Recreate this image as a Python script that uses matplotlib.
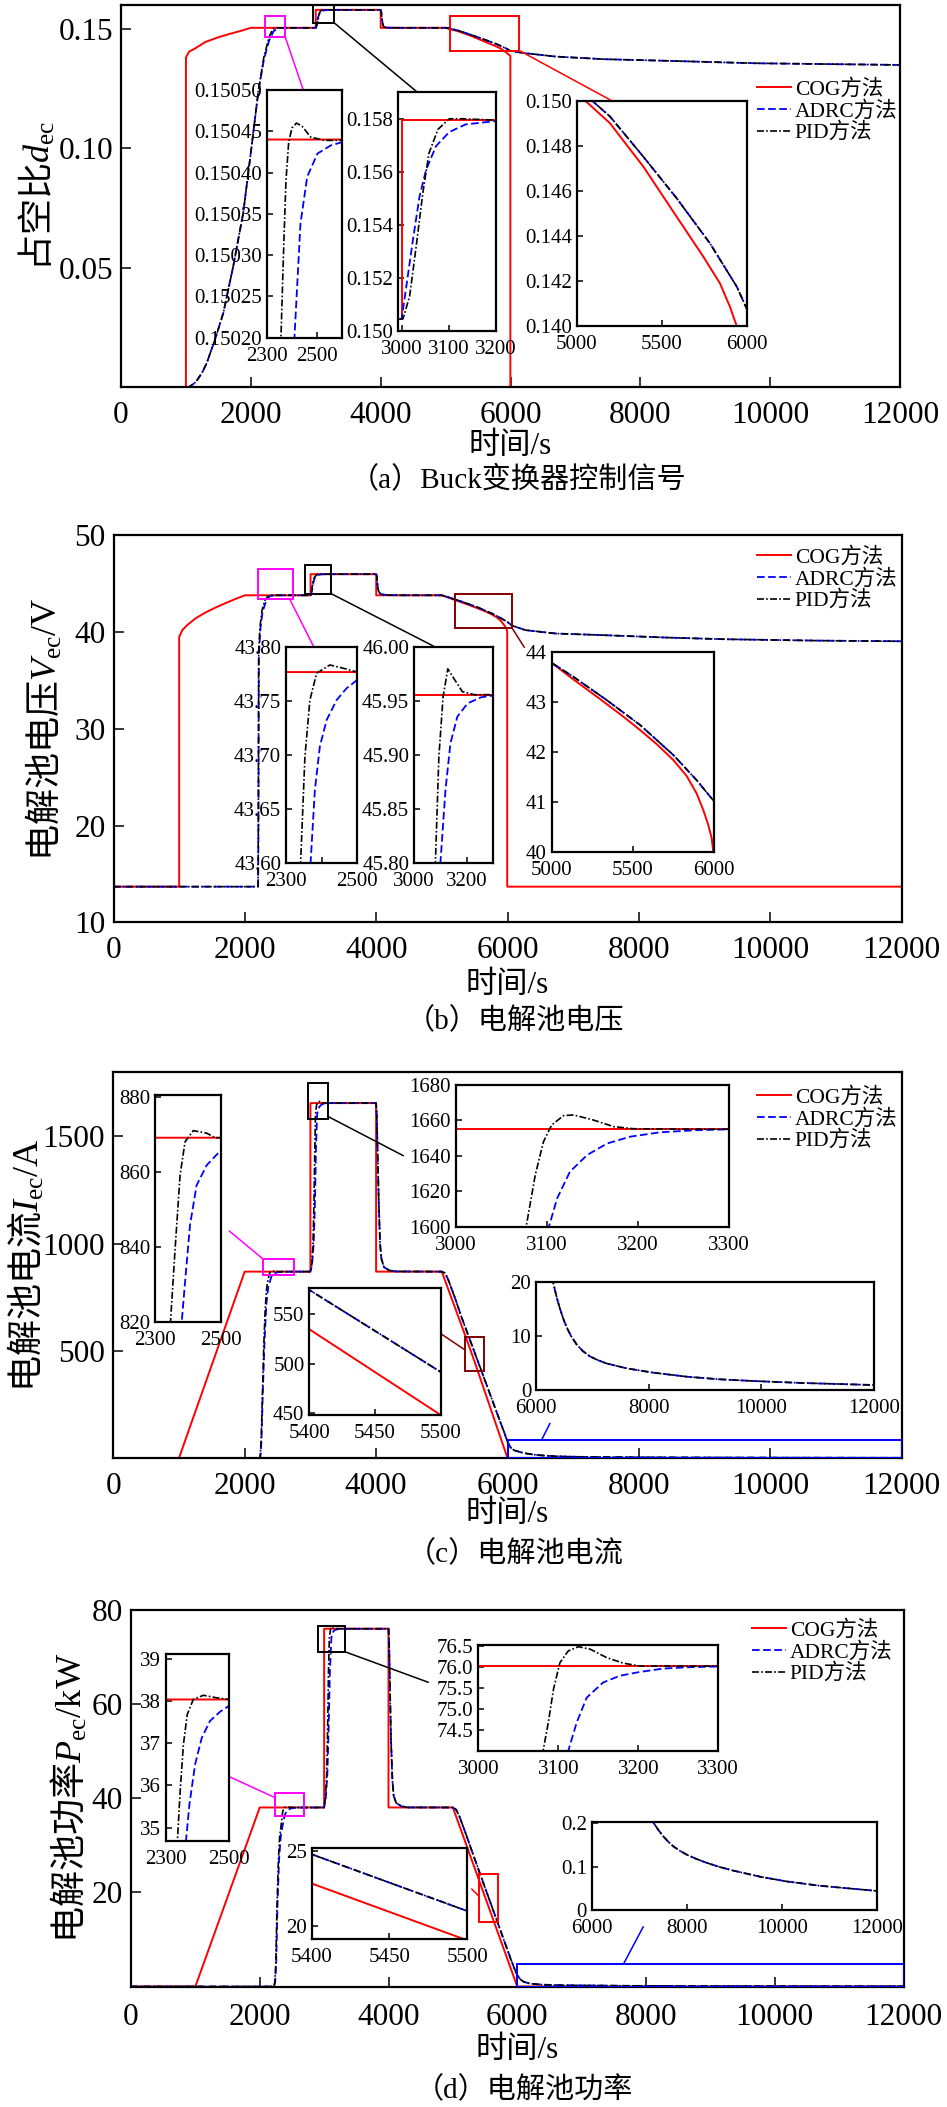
import matplotlib
matplotlib.use("Agg")
import matplotlib.pyplot as plt
from matplotlib.patches import Rectangle, ConnectionPatch

plt.rcParams['font.family'] = ['Liberation Serif', 'Noto Sans CJK SC']
plt.rcParams['mathtext.fontset'] = 'custom'
plt.rcParams['mathtext.rm'] = 'Liberation Serif'
plt.rcParams['mathtext.it'] = 'Liberation Serif:italic'
plt.rcParams['lines.scale_dashes'] = False
plt.rcParams['axes.unicode_minus'] = False

# ============================ DATA ============================
series_names = ['COG方法', 'ADRC方法', 'PID方法']
main_xticks = [0, 2000, 4000, 6000, 8000, 10000, 12000]
main_xticklabels = ['0', '2000', '4000', '6000', '8000', '10000', '12000']

# ---- (a) Buck duty cycle ----
a_cog_t = [0, 1000, 1000, 1050, 1128, 1300, 1500, 1675, 1850, 2000, 3000, 3000, 4000, 4000,
           5000, 5020, 5050, 5195, 5391, 5586, 5742, 5840, 5898, 5938, 5975, 5998, 5998, 12000]
a_cog_v = [0, 0, 0.138, 0.1405, 0.1416, 0.1445, 0.1465, 0.1479, 0.1492, 0.15044, 0.15044, 0.15797,
           0.15797, 0.15044, 0.15044, 0.1503, 0.1500, 0.1490, 0.14707, 0.14485, 0.14308, 0.14189,
           0.14086, 0.1400, 0.1392, 0.1386, 0, 0]
a_rise_t = [0, 1050, 1150, 1250, 1320, 1450, 1576, 1730, 1884, 2013, 2115]
a_rise_v = [0, 0, 0.002, 0.006, 0.010, 0.020, 0.031, 0.0507, 0.0731, 0.101, 0.1237]
a_pid_mid_t = [2200, 2280, 2330, 2357, 2368, 2377, 2388, 2401, 2419, 2442, 2476, 2530, 3000, 3003,
               3017, 3031, 3045, 3058, 3077, 3101, 3129, 3198, 4000]
a_pid_mid_v = [0.138, 0.1465, 0.1495, 0.15020, 0.15031, 0.15039, 0.150437, 0.150454, 0.150460,
               0.150456, 0.150443, 0.150439, 0.150439, 0.15045, 0.1513, 0.1532, 0.1552, 0.1567,
               0.1576, 0.1580, 0.1580, 0.15795, 0.15795]
a_adrc_mid_t = [2200, 2280, 2350, 2411, 2435, 2462, 2503, 2557, 2604, 2700, 3000, 3010, 3024, 3038,
                3052, 3073, 3101, 3136, 3198, 3300, 4000]
a_adrc_mid_v = [0.137, 0.145, 0.1490, 0.15020, 0.150338, 0.150395, 0.150423, 0.150433, 0.150437,
                0.150439, 0.150439, 0.15167, 0.15343, 0.15507, 0.15608, 0.15697, 0.1575, 0.15779,
                0.15791, 0.15795, 0.15795]
a_tail_t = [4010, 4025, 4040, 4070, 4120, 4300, 5000, 5050, 5090, 5195, 5391, 5586, 5781, 5938,
            6000, 6231, 6696, 7443, 8448, 9766, 12000]
a_tail_v = [0.1570, 0.1530, 0.1512, 0.1506, 0.15050, 0.15045, 0.15044, 0.15030, 0.1500, 0.1493,
            0.14751, 0.14567, 0.14367, 0.14175, 0.14071, 0.1398, 0.1384, 0.1373, 0.1366, 0.1356, 0.1349]

# ---- (b) electrolyser voltage ----
b_cog_t = [0, 1000, 1000, 1050, 1122, 1250, 1400, 1550, 1700, 1850, 2000, 3000, 3000, 4000, 4000,
           5000, 5133, 5236, 5338, 5441, 5543, 5645, 5748, 5830, 5891, 5932, 5963, 5984, 5994,
           5994, 12000]
b_cog_v = [13.7, 13.7, 39.5, 40.2, 40.7, 41.4, 42.0, 42.5, 42.95, 43.38, 43.777, 43.777, 45.956,
           45.956, 43.777, 43.777, 43.448, 43.203, 42.957, 42.704, 42.439, 42.159, 41.840, 41.522,
           41.176, 40.844, 40.545, 40.279, 40.0, 13.7, 13.7]
b_pid_head_t = [0, 2200, 2205, 2210, 2230, 2260, 2300, 2341, 2353, 2367, 2386, 2423, 2461, 2500,
                3000, 3010, 3020, 3035, 3050, 3065, 3081, 3094, 3110, 3128, 3151, 3183, 3228, 4000]
b_pid_head_v = [13.7, 13.7, 20, 38, 40.5, 42.2, 43.2, 43.60, 43.698, 43.751, 43.776, 43.7836,
                43.7805, 43.777, 43.777, 43.9, 44.4, 45.1, 45.5, 45.7, 45.80, 45.898, 45.954,
                45.980, 45.971, 45.9588, 45.956, 45.956]
b_adrc_head_t = [0, 2202, 2207, 2213, 2235, 2270, 2320, 2369, 2381, 2395, 2414, 2442, 2470, 2500,
                 2600, 3000, 3012, 3025, 3040, 3060, 3080, 3100, 3119, 3138, 3164, 3203, 3254,
                 3305, 4000]
b_adrc_head_v = [13.7, 13.7, 20, 37.5, 40.2, 42.1, 43.1, 43.60, 43.6675, 43.708, 43.7325, 43.751,
                 43.762, 43.7697, 43.776, 43.777, 43.9, 44.4, 45.0, 45.5, 45.72, 45.80, 45.8675,
                 45.911, 45.9356, 45.948, 45.9536, 45.9554, 45.956]
b_tail_t = [4010, 4020, 4035, 4060, 4100, 4200, 4400, 5000, 5133, 5338, 5543, 5748, 5891, 6000,
            6070, 6272, 6732, 7468, 8387, 9307, 10686, 12000]
b_tail_v = [45.7, 44.8, 44.2, 43.95, 43.85, 43.79, 43.777, 43.777, 43.50, 43.036, 42.54, 41.94,
            41.44, 41.01, 40.64, 40.18, 39.83, 39.66, 39.42, 39.24, 39.10, 39.03]

# ---- (c) electrolyser current ----
c_cog_t = [0, 1000, 2000, 3000, 3000, 4000, 4000, 5000, 5400, 5500, 6000, 12000]
c_cog_v = [0, 0, 869.1, 869.1, 1655, 1655, 869.1, 869.1, 534.6, 448.3, 0, 0]
c_pid_head_t = [0, 2220, 2234, 2250, 2270, 2290, 2310, 2330, 2347, 2361, 2376, 2391, 2416, 2457,
                2482, 3000, 3020, 3040, 3055, 3065, 3077, 3087, 3096, 3105, 3118, 3129, 3151,
                3173, 3195, 3300, 4000]
c_pid_head_v = [0, 0, 5, 80, 300, 520, 680, 780, 820, 839.5, 859.1, 868.0, 871.0, 870.3, 869.1,
                869.1, 900, 1000, 1200, 1400, 1600, 1629.2, 1648, 1657.4, 1662.7, 1663.1, 1660.2,
                1656.5, 1655.3, 1655, 1655]
c_adrc_head_t = [0, 2225, 2240, 2255, 2275, 2300, 2330, 2360, 2381, 2391, 2406, 2426, 2457, 2500,
                 2550, 2650, 3000, 3025, 3050, 3070, 3085, 3102, 3111, 3125, 3144, 3166, 3191,
                 3224, 3261, 3300, 4000]
c_adrc_head_v = [0, 0, 5, 80, 300, 530, 720, 800, 820, 830.5, 845.7, 856.4, 861.8, 865.8, 867.8,
                 868.8, 869.1, 900, 1000, 1200, 1450, 1600, 1616, 1631, 1640.5, 1647, 1650.8,
                 1653.3, 1654.4, 1655, 1655]
c_tail_t = [4010, 4025, 4040, 4060, 4080, 4120, 4200, 4300, 5000, 5050, 5100, 5200, 5300, 5400,
            5500, 5600, 5700, 5800, 5900, 5950, 6000, 6050, 6100, 6200, 6308, 6370, 6426, 6490,
            6544, 6620, 6722, 6830, 6959, 7100, 7254, 7609, 8083, 8675, 9266, 9858, 10746, 12000]
c_tail_v = [1600, 1400, 1200, 1000, 930, 890, 875, 870, 869.1, 862, 830, 747, 657, 574.2, 491.6,
            409, 326, 243, 160, 120, 75, 48, 36, 27, 19.7, 17.0, 15.0, 13.0, 11.6, 10.0, 8.4,
            7.2, 6.2, 5.5, 4.9, 4.0, 3.2, 2.46, 1.97, 1.66, 1.29, 0.92]

# ---- (d) electrolyser power ----
d_cog_t = [0, 1000, 2000, 3000, 3000, 4000, 4000, 5000, 6000, 12000]
d_cog_v = [0, 0, 38.04, 38.04, 76.02, 76.02, 38.04, 38.04, 0, 0]
d_pid_head_t = [0, 2220, 2235, 2250, 2268, 2290, 2310, 2336, 2344.7, 2355, 2367, 2386, 2418, 2460,
                2500, 3000, 3020, 3040, 3055, 3068, 3081, 3087.5, 3094, 3102, 3112.5, 3125, 3140,
                3160.5, 3181, 3202, 4000]
d_pid_head_v = [0, 0, 1, 5, 17.3, 27, 32, 34.68, 35.86, 36.97, 37.68, 38.04, 38.14, 38.08, 38.04,
                38.04, 40, 45, 55, 67, 74.01, 74.68, 75.47, 76.1, 76.38, 76.48, 76.42, 76.22,
                76.09, 76.02, 76.02]
d_adrc_head_t = [0, 2225, 2240, 2255, 2275, 2300, 2330, 2363, 2374, 2392, 2413, 2439, 2471, 2497,
                 2550, 2650, 3000, 3025, 3050, 3070, 3090, 3112.5, 3123, 3135.5, 3156, 3177, 3202,
                 3231, 3260, 3300, 4000]
d_adrc_head_v = [0, 0, 1, 5, 17, 27, 32.5, 34.68, 35.55, 36.5, 37.13, 37.53, 37.75, 37.88, 37.97,
                 38.02, 38.04, 40, 45, 55, 67, 74.01, 74.68, 75.27, 75.63, 75.79, 75.88, 75.96,
                 75.99, 76.01, 76.02]
d_tail_t = [4010, 4025, 4040, 4060, 4080, 4120, 4200, 4300, 5000, 5050, 5100, 5200, 5300, 5400,
            5500, 5600, 5700, 5800, 5900, 5950, 6000, 6050, 6100, 6200, 6400, 6700, 7000, 7295,
            7400, 7505, 7615, 7715, 7850, 7995, 8200, 8415, 8700, 8975, 9535, 10095, 10795,
            11495, 12000]
d_tail_v = [73, 62, 52, 44, 40.5, 39, 38.3, 38.05, 38.04, 37.6, 36.2, 32.5, 28.6, 24.78, 20.98,
            17.2, 13.4, 9.6, 5.8, 4.0, 2.4, 1.5, 1.0, 0.6, 0.38, 0.27, 0.23, 0.202, 0.185, 0.170,
            0.157, 0.147, 0.137, 0.128, 0.118, 0.109, 0.099, 0.091, 0.077, 0.066, 0.056, 0.049,
            0.044]

# assembled series
a_pid_t = a_rise_t + a_pid_mid_t + a_tail_t
a_pid_v = a_rise_v + a_pid_mid_v + a_tail_v
a_adrc_t = a_rise_t + a_adrc_mid_t + a_tail_t
a_adrc_v = a_rise_v + a_adrc_mid_v + a_tail_v
b_pid_t, b_pid_v = b_pid_head_t + b_tail_t, b_pid_head_v + b_tail_v
b_adrc_t, b_adrc_v = b_adrc_head_t + b_tail_t, b_adrc_head_v + b_tail_v
c_pid_t, c_pid_v = c_pid_head_t + c_tail_t, c_pid_head_v + c_tail_v
c_adrc_t, c_adrc_v = c_adrc_head_t + c_tail_t, c_adrc_head_v + c_tail_v
d_pid_t, d_pid_v = d_pid_head_t + d_tail_t, d_pid_head_v + d_tail_v
d_adrc_t, d_adrc_v = d_adrc_head_t + d_tail_t, d_adrc_head_v + d_tail_v

# ============================ LAYOUT ============================
FW, FH, DPI = 947, 2107, 100
fig = plt.figure(figsize=(FW / DPI, FH / DPI), dpi=DPI)
fig.patch.set_facecolor('white')


def fx(x):
    return x / FW


def fy(y):
    return 1 - y / FH


def make_axes(box, z):
    l, r, t, b = box
    return fig.add_axes([fx(l), fy(b), (r - l) / FW, (b - t) / FH], zorder=z)


def style(ax, lw, tlen, lsize, xpad, ypad):
    for s in ax.spines.values():
        s.set_linewidth(lw)
        s.set_color('black')
    ax.tick_params(direction='in', length=tlen, width=1.1, labelsize=lsize,
                   top=False, right=False, colors='black')
    ax.tick_params(axis='x', pad=xpad)
    ax.tick_params(axis='y', pad=ypad)


def draw_series(ax, cog, adrc, pid, labels=True):
    ax.plot(cog[0], cog[1], color='#ff0000', lw=1.4,
            label=series_names[0] if labels else None)
    ax.plot(adrc[0], adrc[1], color='#0000ff', lw=1.3, ls=(0, (5.5, 2.5)),
            label=series_names[1] if labels else None)
    ax.plot(pid[0], pid[1], color='black', lw=1.2, ls=(0, (5.0, 1.6, 1.2, 1.6)),
            label=series_names[2] if labels else None)


panels = [
    dict(box=(121, 900, 5, 387), ylim=(0, 0.16), yticks=[0.05, 0.10, 0.15],
         yticklabels=['0.05', '0.10', '0.15'],
         ylabel='占空比$d_{\\mathrm{ec}}$', ylabel_x=38, xlabel_y=447, xpad=10,
         caption='（a）Buck变换器控制信号', cap=(518, 479), legend=(757, 79),
         cog=(a_cog_t, a_cog_v), adrc=(a_adrc_t, a_adrc_v), pid=(a_pid_t, a_pid_v),
         insets=[
             dict(box=(266.7, 341.7, 90, 337.7), xlim=(2300, 2600), xticks=[2300, 2500],
                  xl=['2300', '2500'], ylim=(0.15020, 0.15050),
                  yticks=[0.15020, 0.15025, 0.15030, 0.15035, 0.15040, 0.15045, 0.15050],
                  yl=['0.15020', '0.15025', '0.15030', '0.15035', '0.15040', '0.15045', '0.15050']),
             dict(box=(398.3, 496, 92.3, 330.7), xlim=(2993, 3198), xticks=[3000, 3100, 3200],
                  xl=['3000', '3100', '3200'], ylim=(0.150, 0.159),
                  yticks=[0.150, 0.152, 0.154, 0.156, 0.158],
                  yl=['0.150', '0.152', '0.154', '0.156', '0.158']),
             dict(box=(576.7, 747.3, 100.7, 326), xlim=(5000, 6000), xticks=[5000, 5500, 6000],
                  xl=['5000', '5500', '6000'], ylim=(0.140, 0.150),
                  yticks=[0.140, 0.142, 0.144, 0.146, 0.148, 0.150],
                  yl=['0.140', '0.142', '0.144', '0.146', '0.148', '0.150'])],
         boxes=[(2211, 2527, 0.1468, 0.1552, '#ff00ff'), (2965, 3281, 0.1526, 0.16, 'black'),
                (5068, 6137, 0.1409, 0.1552, '#ff0000')],
         links=[((2527, 0.1468), (303.3, 90), '#ff00ff'), ((3281, 0.1526), (416.7, 91.7), 'black'),
                ((6137, 0.1409), (611.7, 100.7), '#ff0000')]),
    dict(box=(113.5, 901.7, 535, 922.5), ylim=(10, 50), yticks=[10, 20, 30, 40, 50],
         yticklabels=['10', '20', '30', '40', '50'],
         ylabel='电解池电压$V_{\\mathrm{ec}}\\mathrm{/V}$', ylabel_x=45, xlabel_y=986, xpad=10,
         caption='（b）电解池电压', cap=(515, 1021), legend=(757, 547),
         cog=(b_cog_t, b_cog_v), adrc=(b_adrc_t, b_adrc_v), pid=(b_pid_t, b_pid_v),
         insets=[
             dict(box=(286, 357.3, 647.3, 862.7), xlim=(2300, 2500), xticks=[2300, 2400, 2500],
                  xl=['2300', '', '2500'], ylim=(43.60, 43.80),
                  yticks=[43.60, 43.65, 43.70, 43.75, 43.80],
                  yl=['43.60', '43.65', '43.70', '43.75', '43.80']),
             dict(box=(414, 493.3, 647.3, 862.7), xlim=(3000, 3300), xticks=[3000, 3200],
                  xl=['3000', '3200'], ylim=(45.80, 46.00),
                  yticks=[45.80, 45.85, 45.90, 45.95, 46.00],
                  yl=['45.80', '45.85', '45.90', '45.95', '46.00']),
             dict(box=(551.7, 714.3, 651.7, 852.3), xlim=(5000, 6000), xticks=[5000, 5500, 6000],
                  xl=['5000', '5500', '6000'], ylim=(40, 44), yticks=[40, 41, 42, 43, 44],
                  yl=['40', '41', '42', '43', '44'])],
         boxes=[(2207, 2733, 43.42, 46.46, '#ff00ff'), (2916, 3311, 43.95, 46.88, 'black'),
                (5202, 6065, 40.43, 43.91, '#800000')],
         links=[((2680, 43.42), (314, 647.3), '#ff00ff'), ((3311, 43.95), (433.3, 646), 'black'),
                ((6065, 40.43), (524.3, 647.3), '#800000')]),
    dict(box=(113.3, 901.7, 1072, 1458), ylim=(0, 1800), yticks=[500, 1000, 1500],
         yticklabels=['500', '1000', '1500'],
         ylabel='电解池电流$I_{\\mathrm{ec}}\\mathrm{/A}$', ylabel_x=27, xlabel_y=1515, xpad=10,
         caption='（c）电解池电流', cap=(515, 1554), legend=(757, 1087),
         cog=(c_cog_t, c_cog_v), adrc=(c_adrc_t, c_adrc_v), pid=(c_pid_t, c_pid_v),
         insets=[
             dict(box=(155, 221, 1095, 1321.7), xlim=(2300, 2500), xticks=[2300, 2500],
                  xl=['2300', '2500'], ylim=(820, 880.5), yticks=[820, 840, 860, 880],
                  yl=['820', '840', '860', '880']),
             dict(box=(309.3, 440.7, 1288.3, 1415), xlim=(5400, 5500), xticks=[5400, 5450, 5500],
                  xl=['5400', '5450', '5500'], ylim=(448.3, 575.8), yticks=[450, 500, 550],
                  yl=['450', '500', '550']),
             dict(box=(456, 729.3, 1085, 1226.7), xlim=(3000, 3300),
                  xticks=[3000, 3100, 3200, 3300], xl=['3000', '3100', '3200', '3300'],
                  ylim=(1600, 1680), yticks=[1600, 1620, 1640, 1660, 1680],
                  yl=['1600', '1620', '1640', '1660', '1680']),
             dict(box=(536, 874, 1281.7, 1390), xlim=(6000, 12000),
                  xticks=[6000, 8000, 10000, 12000], xl=['6000', '8000', '10000', '12000'],
                  ylim=(0, 20), yticks=[0, 10, 20], yl=['0', '10', '20'])],
         boxes=[(2283, 2750, 854, 927, '#ff00ff'), (2958, 3272, 1582, 1749, 'black'),
                (5353, 5642, 406, 566, '#800000'), (6000, 12000, 0, 85, '#0000ff')],
         links=[((2283, 927), (229.3, 1231), '#ff00ff'), ((3272, 1592), (403.3, 1155.7), 'black'),
                ((5353, 504), (441.7, 1334.3), '#800000'), ((6520, 85), (550, 1423.3), '#0000ff')]),
    dict(box=(131, 903.5, 1610, 1986.5), ylim=(0, 80), yticks=[20, 40, 60, 80],
         yticklabels=['20', '40', '60', '80'],
         ylabel='电解池功率$P_{\\mathrm{ec}}\\mathrm{/kW}$', ylabel_x=70, xlabel_y=2051, xpad=12,
         caption='（d）电解池功率', cap=(524, 2090), legend=(752, 1620),
         cog=(d_cog_t, d_cog_v), adrc=(d_adrc_t, d_adrc_v), pid=(d_pid_t, d_pid_v),
         insets=[
             dict(box=(166, 229.3, 1654, 1841), xlim=(2300, 2500), xticks=[2300, 2500],
                  xl=['2300', '2500'], ylim=(34.68, 39.12), yticks=[35, 36, 37, 38, 39],
                  yl=['35', '36', '37', '38', '39']),
             dict(box=(311.7, 467.3, 1847.7, 1939.3), xlim=(5400, 5500), xticks=[5400, 5450, 5500],
                  xl=['5400', '5450', '5500'], ylim=(19.09, 25.22), yticks=[20, 25],
                  yl=['20', '25']),
             dict(box=(478.3, 718.3, 1645, 1750.7), xlim=(3000, 3300),
                  xticks=[3000, 3100, 3200, 3300], xl=['3000', '3100', '3200', '3300'],
                  ylim=(74.01, 76.52), yticks=[74.5, 75.0, 75.5, 76.0, 76.5],
                  yl=['74.5', '75.0', '75.5', '76.0', '76.5']),
             dict(box=(591.7, 877.3, 1821.7, 1910), xlim=(6000, 12000),
                  xticks=[6000, 8000, 10000, 12000], xl=['6000', '8000', '10000', '12000'],
                  ylim=(0, 0.204), yticks=[0, 0.1, 0.2], yl=['0', '0.1', '0.2'])],
         boxes=[(2243, 2693, 36.2, 41.1, '#ff00ff'), (2905, 3329, 71.1, 76.5, 'black'),
                (5411, 5696, 13.8, 24.0, '#ff0000'), (6000, 12000, 0, 4.7, '#0000ff')],
         links=[((2243, 40.1), (229.3, 1776.7), '#ff00ff'), ((3329, 71.1), (428.3, 1682.3), 'black'),
                ((5411, 19.1), (471.7, 1889), '#ff0000'), ((7647, 4.7), (643.3, 1926.7), '#0000ff')]),
]

for P in panels:
    ax = make_axes(P['box'], 1)
    draw_series(ax, P['cog'], P['adrc'], P['pid'])
    ax.set_xlim(0, 12000)
    ax.set_ylim(*P['ylim'])
    ax.set_xticks(main_xticks)
    ax.set_xticklabels(main_xticklabels)
    ax.set_yticks(P['yticks'])
    ax.set_yticklabels(P['yticklabels'])
    style(ax, 1.6, 7, 22.5, P['xpad'], 5.8)
    l, r, t, b = P['box']
    ax.set_ylabel(P['ylabel'], fontsize=26, family='Noto Sans CJK SC', va='center')
    ax.yaxis.set_label_coords((P['ylabel_x'] - l) / (r - l), 0.5)
    ax.set_xlabel('时间/s', fontsize=22.5, va='center')
    ax.xaxis.set_label_coords(0.5, (b - P['xlabel_y']) / (b - t))
    fig.text(fx(P['cap'][0]), fy(P['cap'][1]), P['caption'], ha='center', va='center',
             fontsize=21)

    for (x0, x1, y0, y1, c) in P['boxes']:
        ax.add_patch(Rectangle((x0, y0), x1 - x0, y1 - y0, fill=False, ec=c, lw=1.4, zorder=5))

    for (pa, pb, c) in P['links']:
        cp = ConnectionPatch(xyA=pa, coordsA=ax.transData, xyB=(fx(pb[0]), fy(pb[1])),
                             coordsB=fig.transFigure, color=c, lw=1.1,
                             shrinkA=0, shrinkB=0, zorder=2)
        fig.add_artist(cp)

    h, lab = ax.get_legend_handles_labels()
    ax.legend(h, lab, loc='upper left', bbox_to_anchor=(fx(P['legend'][0]), fy(P['legend'][1])),
              bbox_transform=fig.transFigure, frameon=False, fontsize=15.5,
              handlelength=1.6, handletextpad=0.15, labelspacing=0.05,
              borderpad=0, borderaxespad=0)

    for I in P['insets']:
        ia = make_axes(I['box'], 5)
        ia.set_facecolor('white')
        draw_series(ia, P['cog'], P['adrc'], P['pid'], labels=False)
        ia.set_xlim(*I['xlim'])
        ia.set_ylim(*I['ylim'])
        ia.set_xticks(I['xticks'])
        ia.set_xticklabels(I['xl'])
        ia.set_yticks(I['yticks'])
        ia.set_yticklabels(I['yl'])
        style(ia, 1.6, 4.5, 15, 6.5, 3.5)

fig.savefig('out.png', dpi=DPI, facecolor='white')
